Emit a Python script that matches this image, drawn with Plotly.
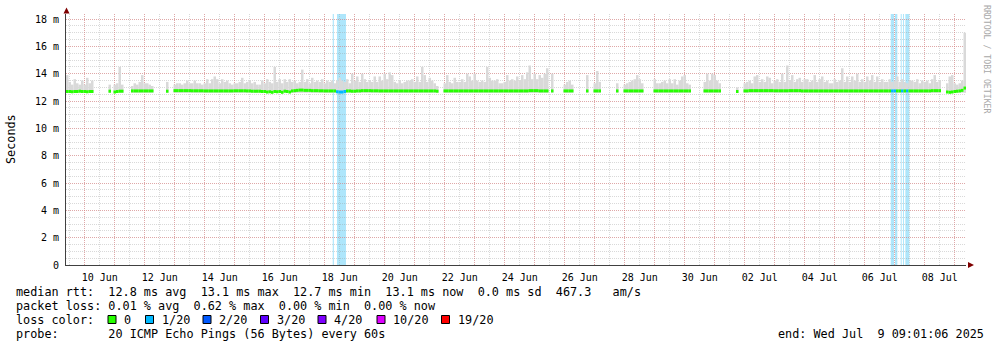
import pandas as pd
import plotly.graph_objects as go

N = None

# ---------------- data ----------------
START = "2025-06-09 09:01:06"
END = "2025-07-09 09:01:06"
SLOT_HOURS = 2  # one value per 2 hours, 12 per row (one row = one day)

smoke_top_ms = [
    13.9, 13.4, 13.2, 13.6, 13.3, 13.2, 13.5, 13.2, 13.7, 13.3, 13.5, N,
    N, N, N, N, N, 13.2, N, 13.2, 13.3, 14.5, 13.2, N,
    N, N, 13.1, 13.3, 13.2, 13.4, 13.9, 13.3, 13.3, 13.2, 13.1, N,
    N, N, N, N, 13.4, N, N, 13.2, 13.3, 13.3, 13.2, 13.3,
    13.5, 13.3, 13.3, 13.5, 13.3, 13.3, 13.2, 13.3, 13.6, 13.3, 13.6, 13.8,
    13.6, 13.3, 13.6, 13.4, 13.5, 13.3, 13.2, 13.3, 13.3, 13.4, 13.7, 13.3,
    13.4, 13.5, 13.3, 13.4, 13.2, 13.2, 13.5, 13.3, 13.6, 13.4, 13.3, 14.5,
    13.4, 13.6, 13.3, 13.6, 13.4, 13.6, 13.4, 13.5, 13.3, 13.4, 14.3, 13.4,
    13.6, 13.3, 13.7, 13.4, 13.5, 13.4, 13.6, 13.3, 13.5, 13.4, 13.5, 13.3,
    13.5, 13.7, 13.5, 13.4, 13.6, 13.3, 14.0, 13.5, 13.8, 13.4, 14.0, 13.6,
    13.4, 13.5, 13.4, 13.8, 13.4, 13.8, 13.5, 14.0, 13.6, 14.1, 13.9, 13.4,
    13.3, 13.5, 13.3, 13.4, 13.5, 13.5, 13.6, 13.4, 13.8, 13.4, 14.5, 13.9,
    13.4, 13.7, 13.5, 13.3, 13.1, N, N, 13.3, 13.9, 13.4, 13.3, 13.7,
    13.4, 13.4, 13.6, 13.4, 14.0, 13.8, 13.5, 14.0, 13.5, 13.4, 13.5, 13.4,
    14.5, 13.7, 13.5, 13.5, 13.6, 13.3, 13.3, 13.4, 13.9, 13.5, 13.6, 13.5,
    13.8, 13.5, 13.9, 13.6, 14.1, 14.6, 13.6, 14.0, 13.6, 13.9, 13.7, 14.0,
    14.4, N, 14.0, N, N, N, N, 13.2, 13.4, 13.5, 13.2, N,
    N, N, N, N, 13.9, N, N, 13.3, 14.2, 13.4, N, N,
    N, N, N, N, 13.3, N, N, 13.2, 13.3, 13.4, 13.5, 13.6,
    13.9, 13.6, 13.3, N, N, N, N, 13.6, 13.3, 13.3, 13.4, 13.5,
    13.3, 13.6, 13.3, 13.6, 13.2, 13.5, 13.8, 13.9, 13.3, 13.2, N, N,
    N, N, N, 13.4, 14.0, 13.5, 14.0, 13.9, 13.5, 13.3, N, N,
    N, N, N, N, 13.0, N, N, 13.3, 13.4, 13.5, 13.3, 13.8,
    13.9, 13.4, 13.6, 13.4, 13.8, 13.7, 13.3, 13.5, 13.6, 13.4, 14.0, 13.4,
    14.6, 13.5, 13.9, 13.4, 13.6, 13.7, 13.4, 13.6, 13.6, 13.4, 13.5, 13.9,
    13.4, 13.6, 13.8, 13.4, 13.5, 13.3, 13.3, 13.6, 13.4, 13.5, 14.4, 13.4,
    13.8, 13.4, 13.8, 13.5, 14.0, 13.4, 13.6, 13.4, 13.8, 13.5, 13.9, 13.4,
    13.8, 13.4, 13.6, 13.4, 13.4, 13.6, 13.4, 13.5, 13.8, 13.4, 13.6, 13.4,
    13.3, 13.5, 13.5, 13.4, 13.6, 13.3, 13.5, 13.4, 13.5, 13.3, 13.6, 13.9,
    13.4, 13.5, N, N, 13.3, 13.8, 13.9, 13.3, 13.2, 13.3, 13.5, 17.0,
]

median_ms = [
    12.70, 12.70, 12.68, 12.70, 12.70, 12.72, 12.70, 12.70, 12.68, 12.70, 12.70, N,
    N, N, N, N, N, 12.72, N, 12.66, 12.70, 12.72, 12.72, N,
    N, N, 12.74, 12.74, 12.74, 12.74, 12.74, 12.74, 12.74, 12.74, 12.74, N,
    N, N, N, N, 12.72, N, N, 12.76, 12.76, 12.76, 12.76, 12.76,
    12.76, 12.76, 12.75, 12.75, 12.75, 12.75, 12.75, 12.74, 12.74, 12.74, 12.74, 12.74,
    12.74, 12.74, 12.74, 12.74, 12.74, 12.74, 12.74, 12.75, 12.75, 12.75, 12.75, 12.75,
    12.74, 12.74, 12.72, 12.72, 12.72, 12.72, 12.70, 12.70, 12.66, 12.68, 12.64, 12.70,
    12.68, 12.70, 12.64, 12.72, 12.70, 12.66, 12.74, 12.76, 12.78, 12.80, 12.80, 12.78,
    12.78, 12.78, 12.76, 12.76, 12.76, 12.75, 12.75, 12.74, 12.74, 12.74, 12.74, 12.74,
    12.68, 12.66, 12.66, 12.70, 12.74, 12.74, 12.72, 12.72, 12.74, 12.74, 12.76, 12.76,
    12.76, 12.76, 12.75, 12.75, 12.75, 12.74, 12.74, 12.74, 12.74, 12.74, 12.74, 12.74,
    12.74, 12.74, 12.74, 12.74, 12.74, 12.74, 12.74, 12.74, 12.74, 12.74, 12.74, 12.74,
    12.74, 12.74, 12.74, 12.74, 12.72, N, N, 12.74, 12.74, 12.74, 12.74, 12.74,
    12.74, 12.74, 12.74, 12.74, 12.74, 12.74, 12.74, 12.74, 12.74, 12.74, 12.74, 12.74,
    12.74, 12.74, 12.74, 12.74, 12.74, 12.74, 12.74, 12.74, 12.74, 12.74, 12.74, 12.74,
    12.74, 12.74, 12.74, 12.74, 12.74, 12.76, 12.76, 12.76, 12.76, 12.74, 12.74, 12.74,
    12.74, N, 12.74, N, N, N, N, 12.74, 12.74, 12.74, 12.74, N,
    N, N, N, N, 12.74, N, N, 12.74, 12.74, 12.74, N, N,
    N, N, N, N, 12.74, N, N, 12.74, 12.74, 12.74, 12.74, 12.74,
    12.74, 12.74, 12.74, N, N, N, N, 12.74, 12.74, 12.74, 12.74, 12.74,
    12.74, 12.74, 12.74, 12.74, 12.74, 12.74, 12.74, 12.74, 12.74, 12.74, N, N,
    N, N, N, 12.74, 12.74, 12.74, 12.74, 12.74, 12.74, 12.74, N, N,
    N, N, N, N, 12.70, N, N, 12.74, 12.74, 12.76, 12.76, 12.76,
    12.76, 12.76, 12.76, 12.76, 12.76, 12.76, 12.76, 12.75, 12.75, 12.75, 12.75, 12.75,
    12.75, 12.76, 12.76, 12.76, 12.76, 12.76, 12.74, 12.74, 12.74, 12.74, 12.74, 12.74,
    12.74, 12.74, 12.74, 12.74, 12.74, 12.74, 12.74, 12.74, 12.74, 12.74, 12.74, 12.74,
    12.74, 12.74, 12.74, 12.74, 12.74, 12.74, 12.74, 12.74, 12.74, 12.74, 12.74, 12.74,
    12.74, 12.74, 12.74, 12.74, 12.74, 12.74, 12.74, 12.74, 12.74, 12.74, 12.74, 12.74,
    12.74, 12.74, 12.74, 12.74, 12.74, 12.74, 12.74, 12.74, 12.74, 12.74, 12.76, 12.76,
    12.76, 12.76, N, N, 12.66, 12.64, 12.66, 12.70, 12.72, 12.74, 12.78, 12.95,
]

# pings lost out of 20 in each slot
loss_pings = [
    0, 0, 0, 0, 0, 0, 0, 0, 0, 0, 0, 0,
    0, 0, 0, 0, 0, 0, 0, 0, 0, 0, 0, 0,
    0, 0, 0, 0, 0, 0, 0, 0, 0, 0, 0, 0,
    0, 0, 0, 0, 0, 0, 0, 0, 0, 0, 0, 0,
    0, 0, 0, 0, 0, 0, 0, 0, 0, 0, 0, 0,
    0, 0, 0, 0, 0, 0, 0, 0, 0, 0, 0, 0,
    0, 0, 0, 0, 0, 0, 0, 0, 0, 0, 0, 0,
    0, 0, 0, 0, 0, 0, 0, 0, 0, 0, 0, 0,
    0, 0, 0, 0, 0, 0, 0, 0, 0, 0, 0, 0,
    1, 1, 1, 1, 0, 0, 0, 0, 0, 0, 0, 0,
    0, 0, 0, 0, 0, 0, 0, 0, 0, 0, 0, 0,
    0, 0, 0, 0, 0, 0, 0, 0, 0, 0, 0, 0,
    0, 0, 0, 0, 0, 0, 0, 0, 0, 0, 0, 0,
    0, 0, 0, 0, 0, 0, 0, 0, 0, 0, 0, 0,
    0, 0, 0, 0, 0, 0, 0, 0, 0, 0, 0, 0,
    0, 0, 0, 0, 0, 0, 0, 0, 0, 0, 0, 0,
    0, 0, 0, 0, 0, 0, 0, 0, 0, 0, 0, 0,
    0, 0, 0, 0, 0, 0, 0, 0, 0, 0, 0, 0,
    0, 0, 0, 0, 0, 0, 0, 0, 0, 0, 0, 0,
    0, 0, 0, 0, 0, 0, 0, 0, 0, 0, 0, 0,
    0, 0, 0, 0, 0, 0, 0, 0, 0, 0, 0, 0,
    0, 0, 0, 0, 0, 0, 0, 0, 0, 0, 0, 0,
    0, 0, 0, 0, 0, 0, 0, 0, 0, 0, 0, 0,
    0, 0, 0, 0, 0, 0, 0, 0, 0, 0, 0, 0,
    0, 0, 0, 0, 0, 0, 0, 0, 0, 0, 0, 0,
    0, 0, 0, 0, 0, 0, 0, 0, 0, 0, 0, 0,
    0, 0, 0, 0, 0, 0, 0, 0, 0, 0, 0, 0,
    0, 0, 0, 0, 0, 0, 1, 1, 0, 0, 1, 0,
    1, 0, 0, 0, 0, 0, 0, 0, 0, 0, 0, 0,
    0, 0, 0, 0, 0, 0, 0, 0, 0, 0, 0, 0,
]

loss_band_start = ["2025-06-18 06:24", "2025-06-18 09:48", "2025-07-06 20:48",
                   "2025-07-07 00:12", "2025-07-07 04:48", "2025-07-07 06:36",
                   "2025-07-07 08:30"]
loss_band_end = ["2025-06-18 07:20", "2025-06-18 17:00", "2025-07-06 23:24",
                 "2025-07-07 02:06", "2025-07-07 05:36", "2025-07-07 07:24",
                 "2025-07-07 11:42"]

y_tick_values = [0, 2, 4, 6, 8, 10, 12, 14, 16, 18]
y_tick_labels = ["0", "2 m", "4 m", "6 m", "8 m", "10 m", "12 m", "14 m", "16 m", "18 m"]

x_tick_labels = ["10 Jun", "", "12 Jun", "", "14 Jun", "", "16 Jun", "", "18 Jun", "",
                 "20 Jun", "", "22 Jun", "", "24 Jun", "", "26 Jun", "", "28 Jun", "",
                 "30 Jun", "", "02 Jul", "", "04 Jul", "", "06 Jul", "", "08 Jul", ""]

rtt_stats = [12.8, 13.1, 12.7, 13.1]       # avg max min now (ms)
rtt_sd = 0.0
rtt_am_s = 467.3
loss_stats = [0.01, 0.62, 0.00, 0.00]      # avg max min now (%)

loss_legend_labels = ["0", "1/20", "2/20", "3/20", "4/20", "10/20", "19/20"]
loss_legend_pings = [0, 1, 2, 3, 4, 10, 19]
loss_legend_colors = ["#26ff00", "#00b8ff", "#0059ff", "#5e00ff", "#7e00ff", "#dd00ff", "#ff0000"]

probe_text = "20 ICMP Echo Pings (56 Bytes) every 60s"
end_text = "Wed Jul  9 09:01:06 2025"

# ---------------- layout constants ----------------
W, H = 997, 347
ML, MR, MT, MB = 66, 31, 14, 82
PW = W - ML - MR
PH = H - MT - MB
Y_MAX = 18.37
MONO = "DejaVu Sans Mono"
SMOKE_BASE = 12.6
MED_THICK = 0.22
LEGEND_SIZE = 11.8


def fx(px):
    return (px - ML) / PW


def fy(py):
    return (H - MB - py) / PH


def nb(s):
    return s.replace(" ", "\u00a0")


slot_x = pd.date_range(START, periods=len(smoke_top_ms), freq=f"{SLOT_HOURS}h") + pd.Timedelta(hours=SLOT_HOURS / 2)
slot_w = SLOT_HOURS * 3600 * 1000
color_by_pings = dict(zip(loss_legend_pings, loss_legend_colors))

fig = go.Figure()

fig.add_trace(go.Bar(
    x=slot_x,
    y=[None if t is None else t - SMOKE_BASE for t in smoke_top_ms],
    base=SMOKE_BASE,
    width=slot_w,
    marker=dict(color="#d9d9d9", line=dict(width=0)),
    opacity=1,
    hoverinfo="skip",
))

fig.add_trace(go.Bar(
    x=slot_x,
    y=[None if m is None else MED_THICK for m in median_ms],
    base=[None if m is None else m - MED_THICK / 2 for m in median_ms],
    width=slot_w,
    marker=dict(color=[color_by_pings[p] for p in loss_pings], line=dict(width=0)),
    opacity=1,
    hoverinfo="skip",
))

shapes = []
for s, e in zip(loss_band_start, loss_band_end):
    shapes.append(dict(type="rect", xref="x", yref="paper", x0=s, x1=e, y0=0, y1=1,
                       fillcolor="#aee6fb", line=dict(width=0), layer="between"))

# axis arrows
ARROW = "#7f0000"
shapes.append(dict(type="path", xref="paper", yref="paper",
                   path=f"M {fx(968)} {fy(262)} L {fx(974)} {fy(265)} L {fx(968)} {fy(268)} Z",
                   fillcolor=ARROW, line=dict(width=0)))
shapes.append(dict(type="path", xref="paper", yref="paper",
                   path=f"M {fx(63.5)} {fy(13.5)} L {fx(66.5)} {fy(7.5)} L {fx(69.5)} {fy(13.5)} Z",
                   fillcolor=ARROW, line=dict(width=0)))

annotations = []


def text_at(px, py, txt, size=LEGEND_SIZE, anchor="left", color="#000", angle=0):
    annotations.append(dict(xref="paper", yref="paper", x=fx(px), y=fy(py), text=nb(txt),
                            showarrow=False, xanchor=anchor, yanchor="middle",
                            font=dict(family=MONO, size=size, color=color),
                            textangle=angle, borderpad=0))


line1 = ("median rtt:  " + f"{rtt_stats[0]:.1f} ms avg  {rtt_stats[1]:.1f} ms max  "
         f"{rtt_stats[2]:.1f} ms min  {rtt_stats[3]:.1f} ms now  {rtt_sd:.1f} ms sd  "
         f"{rtt_am_s:.1f}   am/s")
line2 = ("packet loss: " + f"{loss_stats[0]:.2f} % avg  {loss_stats[1]:.2f} % max  "
         f"{loss_stats[2]:.2f} % min  {loss_stats[3]:.2f} % now")
text_at(15, 291.5, line1)
text_at(15, 305.5, line2)
text_at(15, 319.5, "loss color:")
text_at(15, 333.5, "probe:       " + probe_text)
text_at(777, 333.5, "end: " + end_text)

BOX_X = [108, 145.5, 203, 260.5, 318, 377, 441.5]
for bx, lab, col in zip(BOX_X, loss_legend_labels, loss_legend_colors):
    shapes.append(dict(type="rect", xref="paper", yref="paper",
                       x0=fx(bx), x1=fx(bx + 8), y0=fy(323.5), y1=fy(315.5),
                       fillcolor=col, line=dict(color="#000", width=1)))
    text_at(bx + 15, 319.5, lab)

text_at(11, 139, "Seconds", angle=-90, anchor="center")
text_at(987, 59, "RRDTOOL / TOBI OETIKER", size=8.2, anchor="center", color="#a8a8a8", angle=90)

MAJOR = "rgba(230,120,120,0.5)"
MINOR = "rgba(150,150,150,0.36)"
DASH = "1px,1px"

fig.update_layout(
    width=W, height=H,
    margin=dict(l=ML, r=MR, t=MT, b=MB, pad=0),
    paper_bgcolor="#ffffff",
    plot_bgcolor="#ffffff",
    barmode="overlay",
    showlegend=False,
    shapes=shapes,
    annotations=annotations,
    font=dict(family=MONO, size=10, color="#000"),
    xaxis=dict(
        type="date",
        range=[START, END],
        tickmode="array",
        tickvals=pd.date_range("2025-06-10", periods=len(x_tick_labels), freq="D"),
        ticktext=x_tick_labels,
        ticklabelshift=15,
        ticklabelstandoff=3,
        ticks="",
        showgrid=True, gridcolor=MAJOR, griddash=DASH, gridwidth=1,
        minor=dict(dtick=12 * 3600 * 1000, tick0="2025-06-09 00:00", showgrid=True,
                   gridcolor=MINOR, griddash=DASH, gridwidth=1),
        showline=True, linecolor="#404040", linewidth=1,
        zeroline=False, fixedrange=True,
        tickfont=dict(family=MONO, size=10, color="#000"),
    ),
    yaxis=dict(
        range=[0, Y_MAX],
        tickmode="array",
        tickvals=y_tick_values,
        ticktext=y_tick_labels,
        ticks="",
        ticklabelstandoff=4,
        showgrid=True, gridcolor=MAJOR, griddash=DASH, gridwidth=1,
        minor=dict(tickmode="linear", tick0=0, dtick=0.5, showgrid=True,
                   gridcolor=MINOR, griddash=DASH, gridwidth=1),
        showline=True, linecolor="#404040", linewidth=1,
        zeroline=False, fixedrange=True,
        tickfont=dict(family=MONO, size=10, color="#000"),
    ),
)

fig.write_html("out.html")
